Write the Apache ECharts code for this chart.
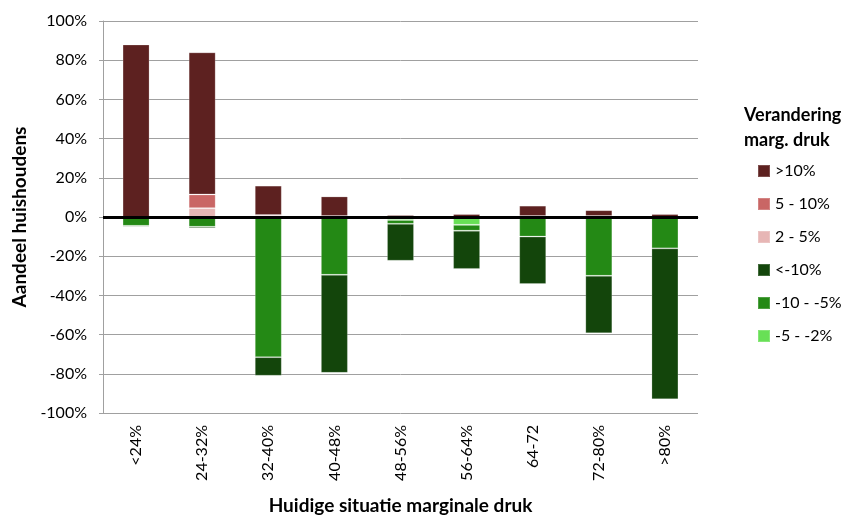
<!DOCTYPE html>
<html>
<head>
<meta charset="utf-8">
<script src="https://cdn.jsdelivr.net/npm/echarts@6/dist/echarts.min.js"></script>
<style>html,body{margin:0;padding:0;background:#fff}#c{width:849px;height:516px}</style>
</head>
<body>
<div id="c"></div>
<script>
const categories = ['<24%', '24-32%', '32-40%', '40-48%', '48-56%', '56-64%', '64-72', '72-80%', '>80%'];
const yTicks = [-100, -80, -60, -40, -20, 0, 20, 40, 60, 80, 100];
// positive changes (share of households, %)
const up2to5 = [0, 4.5, 1, 0.5, 0, 0, 0.5, 0.5, 0];
const up5to10 = [0, 7, 0, 0, 0, 0, 0, 0, 0];
const upOver10 = [88, 72.5, 15, 10, 1, 1.5, 5.3, 3, 1.5];
// negative changes (share of households, %)
const down2to5 = [0, 0, -0.5, -0.5, -1.5, -4, 0, 0, -0.5];
const down5to10 = [-4.5, -5, -71, -29, -2, -3, -10, -30, -15.5];
const downOver10 = [-0.6, -0.8, -9.5, -50, -18.8, -19.5, -24.2, -29.3, -77];

const names = ['>10%', '5 - 10%', '2 - 5%', '<-10%', '-10 - -5%', '-5 - -2%'];
const colors = {
  '>10%': '#5D2120',
  '5 - 10%': '#C96665',
  '2 - 5%': '#E7B6B5',
  '<-10%': '#13450B',
  '-10 - -5%': '#248915',
  '-5 - -2%': '#68E056'
};
const font = 'Lato, "Open Sans", sans-serif';

function mk(name, data, extra) {
  return Object.assign({
    name: name,
    type: 'bar',
    stack: 'all',
    barWidth: 27,
    data: data,
    itemStyle: { color: colors[name], borderColor: 'rgba(255,255,255,0.2)', borderWidth: 1 },
    emphasis: { disabled: true }
  }, extra || {});
}

const series = [
  mk('2 - 5%', up2to5),
  mk('5 - 10%', up5to10),
  mk('>10%', upOver10),
  mk('-5 - -2%', down2to5),
  mk('-10 - -5%', down5to10),
  mk('<-10%', downOver10, {
    markLine: {
      silent: true,
      symbol: 'none',
      label: { show: false },
      lineStyle: { color: '#000', width: 3, type: 'solid' },
      data: [{ yAxis: 0 }],
      z: 10
    }
  })
];

const chart = echarts.init(document.getElementById('c'), null, { renderer: 'canvas' });
chart.setOption({
  animation: false,
  backgroundColor: '#fff',
  textStyle: { fontFamily: font },
  title: {
    text: 'Verandering\nmarg. druk',
    left: 739,
    top: 98,
    textStyle: { fontFamily: font, fontSize: 18, fontWeight: 'bold', color: '#000', lineHeight: 25 }
  },
  legend: {
    orient: 'vertical',
    left: 752,
    top: 157,
    itemWidth: 12,
    itemHeight: 12,
    itemGap: 15,
    data: names,
    icon: 'rect',
    textStyle: { fontFamily: font, fontSize: 16, color: '#000', lineHeight: 18 },
    selectedMode: false
  },
  grid: { left: 103, right: 151, top: 21, bottom: 103, containLabel: false, outerBoundsMode: 'none' },
  xAxis: {
    type: 'category',
    data: categories,
    name: 'Huidige situatie marginale druk',
    nameLocation: 'middle',
    nameGap: 83,
    nameTextStyle: { fontFamily: font, fontSize: 19, fontWeight: 'bold', color: '#000' },
    axisLine: { lineStyle: { color: '#A0A0A0', width: 1 } },
    axisTick: { show: false },
    axisLabel: { rotate: 90, margin: 12, fontFamily: font, fontSize: 16, color: '#000' }
  },
  yAxis: {
    type: 'value',
    min: yTicks[0],
    max: yTicks[yTicks.length - 1],
    interval: 20,
    name: 'Aandeel huishoudens',
    nameLocation: 'middle',
    nameGap: 73,
    nameTextStyle: { fontFamily: font, fontSize: 19, fontWeight: 'bold', color: '#000' },
    axisLine: { show: true, lineStyle: { color: '#A0A0A0', width: 1 } },
    axisTick: { show: true, length: 4, lineStyle: { color: '#A0A0A0' } },
    splitLine: { show: true, lineStyle: { color: '#A0A0A0', width: 1 } },
    axisLabel: { margin: 16, fontFamily: font, fontSize: 16, color: '#000', formatter: v => v + '%' }
  },
  series: series
});
</script>
</body>
</html>
